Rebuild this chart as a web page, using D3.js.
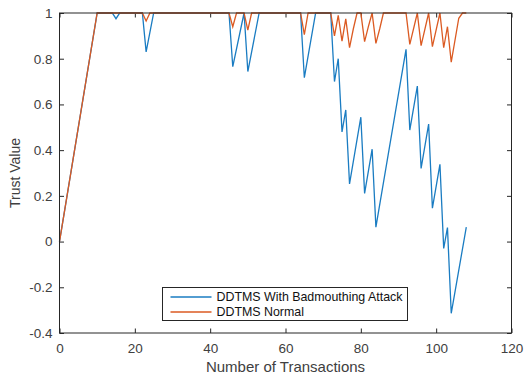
<!DOCTYPE html>
<html>
<head>
<meta charset="utf-8">
<script src="https://cdn.jsdelivr.net/npm/d3@7"></script>
<style>
  body { margin: 0; background: #fff; }
  text { font-family: "Liberation Sans", Arial, sans-serif; }
</style>
</head>
<body>
<div id="chart"></div>
<script>
// Data
let attackX = [0, 10, 14, 15, 16, 22, 23, 25, 45, 46, 49, 50, 53, 64, 65, 68, 72, 73, 74, 75, 76, 77, 80, 81, 83, 84, 92, 93, 95, 96, 98, 99, 101, 102, 103, 104, 108];
let attackY = [0, 1, 1, 0.975, 1, 1, 0.83, 1, 1, 0.765, 1, 0.744, 1, 1, 0.717, 1, 1, 0.70, 0.80, 0.48, 0.576, 0.252, 0.544, 0.211, 0.404, 0.063, 0.841, 0.488, 0.68, 0.32, 0.514, 0.146, 0.338, -0.03, 0.061, -0.314, 0.063];

let normalX = [0, 10, 22, 23, 24, 45, 46, 47, 49, 50, 51, 64, 65, 66, 72, 73, 74, 75, 76, 77, 78, 79, 80, 81, 82, 83, 84, 85, 86, 92, 93, 95, 96, 98, 99, 101, 102, 103, 104, 106, 107, 108];
let normalY = [0, 1, 1, 0.965, 1, 1, 0.94, 1, 1, 0.925, 1, 1, 0.905, 1, 1, 0.90, 0.99, 0.877, 0.974, 0.848, 0.93, 1, 1, 0.875, 0.94, 1, 0.867, 0.93, 1, 1, 0.863, 1, 0.857, 1, 0.853, 1, 0.848, 0.94, 0.785, 0.977, 1, 1];

let xTicks = [0, 20, 40, 60, 80, 100, 120];
let yTicks = [-0.4, -0.2, 0, 0.2, 0.4, 0.6, 0.8, 1];
let seriesNames = ["DDTMS With Badmouthing Attack", "DDTMS Normal"];
let seriesColors = ["#1a7cc2", "#DB5A22"];

let width = 526, height = 376;
let plotLeft = 59.5, plotRight = 511.5, plotTop = 13, plotBottom = 333;

let svg = d3.select("#chart").append("svg")
    .attr("width", width)
    .attr("height", height);

let x = d3.scaleLinear().domain([0, 120]).range([plotLeft, plotRight]);
let y = d3.scaleLinear().domain([-0.4, 1]).range([plotBottom, plotTop]);

let axisColor = "#262626";
let tickFmt = d => String(+d.toFixed(1));

// axes, ticks pointing inward, on all four sides
svg.append("g")
    .attr("transform", "translate(0," + plotBottom + ")")
    .call(d3.axisBottom(x).tickValues(xTicks).tickSizeInner(-4.5).tickSizeOuter(0).tickPadding(10).tickFormat(tickFmt));
svg.append("g")
    .attr("transform", "translate(0," + plotTop + ")")
    .call(d3.axisTop(x).tickValues(xTicks).tickSizeInner(-4.5).tickSizeOuter(0).tickFormat(""));
svg.append("g")
    .attr("transform", "translate(" + plotLeft + ",0)")
    .call(d3.axisLeft(y).tickValues(yTicks).tickSizeInner(-4.5).tickSizeOuter(0).tickPadding(7).tickFormat(tickFmt));
svg.append("g")
    .attr("transform", "translate(" + plotRight + ",0)")
    .call(d3.axisRight(y).tickValues(yTicks).tickSizeInner(-4.5).tickSizeOuter(0).tickFormat(""));

svg.selectAll(".domain").remove();
svg.selectAll(".tick line").attr("stroke", axisColor);
svg.selectAll(".tick text")
    .attr("fill", "#404040")
    .style("font-size", "13.5px");

// lines
let lineGen = d3.line()
    .x(d => x(d[0]))
    .y(d => y(d[1]));

let attackData = attackX.map((v, i) => [v, attackY[i]]);
let normalData = normalX.map((v, i) => [v, normalY[i]]);

svg.append("path")
    .datum(attackData)
    .attr("fill", "none")
    .attr("stroke", seriesColors[0])
    .attr("stroke-width", 1.3)
    .attr("d", lineGen);

svg.append("path")
    .datum(normalData)
    .attr("fill", "none")
    .attr("stroke", seriesColors[1])
    .attr("stroke-width", 1.3)
    .attr("d", lineGen);

// box
svg.append("rect")
    .attr("x", plotLeft)
    .attr("y", plotTop)
    .attr("width", plotRight - plotLeft)
    .attr("height", plotBottom - plotTop)
    .attr("fill", "none")
    .attr("stroke", axisColor)
    .attr("stroke-width", 1);

// axis labels
svg.append("text")
    .attr("x", (plotLeft + plotRight) / 2)
    .attr("y", 372)
    .attr("text-anchor", "middle")
    .attr("fill", "#404040")
    .style("font-size", "15px")
    .text("Number of Transactions");

svg.append("text")
    .attr("transform", "translate(20," + ((plotTop + plotBottom) / 2) + ") rotate(-90)")
    .attr("text-anchor", "middle")
    .attr("fill", "#404040")
    .style("font-size", "14px")
    .text("Trust Value");

// legend
let legend = svg.append("g").attr("transform", "translate(162.5,287.5)");
legend.append("rect")
    .attr("width", 245)
    .attr("height", 33)
    .attr("fill", "#fff")
    .attr("stroke", axisColor)
    .attr("stroke-width", 1);

seriesNames.forEach(function (name, i) {
    let yy = 9.5 + i * 15;
    legend.append("line")
        .attr("x1", 8).attr("x2", 49)
        .attr("y1", yy).attr("y2", yy)
        .attr("stroke", seriesColors[i])
        .attr("stroke-width", 1.3);
    legend.append("text")
        .attr("x", 54)
        .attr("y", yy + 4.4)
        .attr("fill", "#111")
        .style("font-size", "12.4px")
        .text(name);
});
</script>
</body>
</html>
